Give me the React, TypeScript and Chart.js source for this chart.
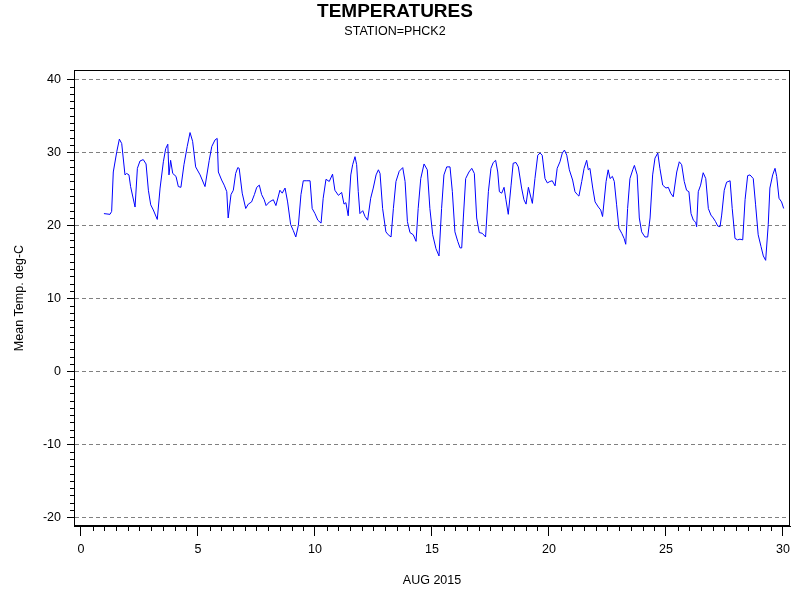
import React, { useEffect, useRef } from "react";
import { Chart, registerables } from "chart.js";

Chart.register(...registerables);

const titleText = "TEMPERATURES";
const subtitleText = "STATION=PHCK2";
const xAxisTitle = "AUG 2015";
const yAxisTitle = "Mean Temp. deg-C";

const xTickValues = [0, 5, 10, 15, 20, 25, 30];
const yTickValues = [-20, -10, 0, 10, 20, 30, 40];
const xMinorStep = 0.5;
const yMinorStep = 1;

const days = [
  0.98, 1.24, 1.31, 1.38, 1.53, 1.64, 1.74, 1.88, 1.95, 2.05, 2.12, 2.31, 2.41, 2.52, 2.66, 2.78, 2.88, 2.98, 3.09, 3.26,
  3.38, 3.52, 3.62, 3.71, 3.76, 3.83, 3.92, 4.06, 4.16, 4.27, 4.4, 4.54, 4.66, 4.77, 4.9, 5.09, 5.3, 5.48, 5.59, 5.73,
  5.82, 5.87, 6.01, 6.12, 6.23, 6.29, 6.41, 6.51, 6.61, 6.7, 6.76, 6.89, 7.04, 7.15, 7.29, 7.41, 7.51, 7.62, 7.72, 7.83,
  7.91, 8.05, 8.22, 8.33, 8.5, 8.6, 8.72, 8.83, 8.96, 9.07, 9.18, 9.29, 9.4, 9.5, 9.65, 9.79, 9.88, 10.0, 10.12, 10.26,
  10.35, 10.47, 10.61, 10.75, 10.85, 11.0, 11.14, 11.24, 11.32, 11.42, 11.53, 11.61, 11.71, 11.78, 11.85, 11.92, 12.04, 12.14, 12.25, 12.38,
  12.49, 12.61, 12.71, 12.78, 12.89, 13.03, 13.13, 13.25, 13.35, 13.46, 13.6, 13.75, 13.85, 13.95, 14.06, 14.2, 14.32, 14.41, 14.52, 14.66,
  14.8, 14.91, 15.03, 15.17, 15.3, 15.41, 15.51, 15.63, 15.77, 15.87, 15.98, 16.1, 16.2, 16.27, 16.34, 16.44, 16.58, 16.7, 16.81, 16.91,
  17.02, 17.15, 17.29, 17.41, 17.52, 17.62, 17.72, 17.81, 17.88, 17.98, 18.08, 18.16, 18.26, 18.38, 18.47, 18.59, 18.69, 18.83, 18.93, 19.02,
  19.12, 19.29, 19.4, 19.52, 19.62, 19.71, 19.83, 19.93, 20.04, 20.14, 20.26, 20.35, 20.47, 20.57, 20.66, 20.76, 20.87, 21.01, 21.11, 21.21,
  21.28, 21.4, 21.5, 21.61, 21.68, 21.75, 21.87, 21.97, 22.11, 22.21, 22.29, 22.44, 22.53, 22.61, 22.71, 22.79, 22.89, 22.99, 23.11, 23.21,
  23.28, 23.36, 23.46, 23.58, 23.65, 23.77, 23.86, 23.96, 24.1, 24.22, 24.32, 24.43, 24.53, 24.65, 24.74, 24.86, 25.0, 25.1, 25.2, 25.31,
  25.46, 25.57, 25.67, 25.78, 25.88, 25.98, 26.07, 26.17, 26.27, 26.31, 26.38, 26.48, 26.59, 26.7, 26.81, 26.92, 27.02, 27.12, 27.21, 27.31,
  27.38, 27.49, 27.59, 27.74, 27.83, 27.95, 28.06, 28.16, 28.28, 28.38, 28.49, 28.59, 28.73, 28.83, 28.94, 29.06, 29.16, 29.26, 29.37, 29.44,
  29.56, 29.66, 29.73, 29.83, 29.94, 30.03,
];

const temps = [
  21.6, 21.5, 21.9, 27.3, 30.1, 31.8, 31.2, 26.9, 27.1, 26.9, 25.3, 22.5, 27.8, 28.8, 29.0, 28.4, 24.8, 22.8, 22.1, 20.8,
  25.1, 28.7, 30.5, 31.1, 26.9, 28.9, 27.1, 26.7, 25.3, 25.2, 28.3, 30.8, 32.7, 31.5, 28.0, 26.9, 25.3, 28.9, 30.8, 31.7,
  31.9, 27.3, 26.2, 25.5, 24.6, 21.0, 24.2, 24.8, 27.1, 27.9, 27.8, 24.4, 22.3, 22.9, 23.2, 24.2, 25.2, 25.5, 24.2, 23.5,
  22.7, 23.2, 23.5, 22.7, 24.8, 24.4, 25.1, 23.2, 20.1, 19.3, 18.4, 20.0, 24.2, 26.1, 26.1, 26.1, 22.3, 21.6, 20.7, 20.3,
  23.7, 26.3, 26.0, 27.0, 24.8, 24.1, 24.5, 22.9, 23.1, 21.3, 26.9, 28.3, 29.4, 28.3, 24.6, 21.6, 22.0, 21.2, 20.7, 23.7,
  25.1, 26.9, 27.6, 27.1, 22.3, 19.1, 18.7, 18.4, 22.3, 26.0, 27.4, 27.9, 26.0, 20.5, 19.0, 18.7, 17.8, 22.3, 26.4, 28.4,
  27.6, 22.3, 18.7, 16.8, 15.8, 22.3, 26.9, 28.0, 28.0, 24.6, 19.1, 17.8, 16.9, 16.9, 21.0, 26.4, 27.3, 27.8, 27.1, 21.0,
  19.0, 18.9, 18.4, 24.6, 27.8, 28.6, 28.9, 27.3, 24.6, 24.4, 25.2, 23.5, 21.5, 25.5, 28.5, 28.6, 28.0, 25.1, 23.5, 22.9,
  25.2, 23.0, 26.4, 29.6, 29.9, 29.6, 26.4, 25.8, 26.0, 26.1, 25.4, 27.8, 28.7, 29.9, 30.3, 29.6, 27.6, 26.2, 24.6, 24.2,
  24.0, 26.0, 27.8, 28.9, 27.6, 27.8, 25.1, 23.2, 22.5, 22.1, 21.2, 26.0, 27.6, 26.4, 26.7, 26.0, 22.8, 19.6, 18.9, 18.2,
  17.4, 22.3, 26.4, 27.6, 28.2, 26.9, 21.0, 19.1, 18.4, 18.4, 21.0, 26.9, 29.2, 29.9, 27.8, 25.5, 25.1, 25.2, 24.4, 23.9,
  27.3, 28.7, 28.3, 26.0, 24.8, 24.6, 21.6, 20.7, 20.4, 19.8, 24.6, 25.5, 27.2, 26.4, 22.3, 21.4, 21.0, 20.5, 19.9, 19.8,
  21.4, 24.8, 25.9, 26.1, 22.3, 18.2, 18.0, 18.1, 18.0, 23.5, 26.8, 26.9, 26.4, 22.8, 18.7, 17.1, 15.8, 15.2, 20.1, 25.1,
  26.9, 27.8, 26.7, 23.7, 23.2, 22.3,
];

const xMin = -0.299;
const xMax = 30.3;
const yMin = -21.19;
const yMax = 41.27;

function minorValues(majors: number[], step: number, lo: number, hi: number): number[] {
  const out: number[] = [];
  const first = Math.ceil(lo / step);
  const last = Math.floor(hi / step);
  for (let i = first; i <= last; i++) {
    const v = +(i * step).toFixed(4);
    if (!majors.some((m) => Math.abs(m - v) < 1e-6)) out.push(v);
  }
  return out;
}

const FONT = "'Liberation Sans', Arial, Helvetica, sans-serif";

const framePlugin = {
  id: "frameAndMinorTicks",
  afterDraw(chart: any) {
    const { ctx, chartArea: a, scales } = chart;
    const xs = scales.x;
    const ys = scales.y;
    const yMinor = minorValues(yTickValues, yMinorStep, -20, 40);
    const xMinor = minorValues(xTickValues, xMinorStep, xMin, xMax);
    ctx.save();
    ctx.strokeStyle = "#000";
    ctx.lineWidth = 1;
    ctx.setLineDash([]);
    ctx.beginPath();
    const l = Math.round(a.left);
    const b = Math.round(a.bottom);
    for (const v of yMinor) {
      const p = Math.round(ys.getPixelForValue(v)) + 0.5;
      ctx.moveTo(l - 4, p);
      ctx.lineTo(l, p);
    }
    for (const v of xMinor) {
      const p = Math.round(xs.getPixelForValue(v)) + 0.5;
      ctx.moveTo(p, b);
      ctx.lineTo(p, b + 5);
    }
    ctx.stroke();
    ctx.strokeRect(
      Math.round(a.left) + 0.5,
      Math.round(a.top) + 0.5,
      Math.round(a.right - a.left) - 1,
      Math.round(a.bottom - a.top) - 1
    );
    ctx.restore();
  },
};

export default function App() {
  const canvasRef = useRef<HTMLCanvasElement | null>(null);

  useEffect(() => {
    if (!canvasRef.current) return;
    Chart.defaults.font.family = FONT;
    Chart.defaults.color = "#000";
    const points = days.map((d, i) => ({ x: d, y: temps[i] }));
    const chart = new Chart(canvasRef.current, {
      type: "line",
      data: {
        datasets: [
          {
            data: points,
            borderColor: "#0000ff",
            borderWidth: 1,
            pointRadius: 0,
            tension: 0,
            fill: false,
          },
        ],
      },
      options: {
        animation: false,
        responsive: false,
        devicePixelRatio: 1,
        layout: { padding: { left: 0, right: 10, top: 0, bottom: 0 } },
        plugins: {
          legend: { display: false },
          tooltip: { enabled: false },
          title: {
            display: true,
            text: titleText,
            color: "#000",
            font: { size: 19, weight: "bold", lineHeight: 1.1, family: FONT },
            padding: { top: 1, bottom: 0 },
          },
          subtitle: {
            display: true,
            text: subtitleText,
            color: "#000",
            font: { size: 12.5, lineHeight: 1.2, family: FONT },
            padding: { top: 2, bottom: 31.1 },
          },
        },
        scales: {
          x: {
            type: "linear",
            min: xMin,
            max: xMax,
            afterBuildTicks: (scale: any) => {
              scale.ticks = xTickValues.map((v) => ({ value: v }));
            },
            afterFit: (scale: any) => {
              scale.height = 74;
            },
            ticks: {
              color: "#000",
              font: { size: 12.5, lineHeight: 1.2 },
              padding: 6,
              maxRotation: 0,
              autoSkip: false,
              callback: (v: any) => String(v),
            },
            grid: {
              drawOnChartArea: false,
              drawTicks: true,
              tickLength: 10,
              tickColor: "#000",
              tickWidth: 1,
            },
            border: { display: true, color: "#000", width: 1 },
            title: {
              display: true,
              text: xAxisTitle,
              color: "#000",
              font: { size: 12.5, lineHeight: 1.2 },
              padding: { top: 0, bottom: 11.5 },
            },
          },
          y: {
            type: "linear",
            min: yMin,
            max: yMax,
            afterBuildTicks: (scale: any) => {
              scale.ticks = yTickValues.map((v) => ({ value: v }));
            },
            afterFit: (scale: any) => {
              scale.width = 74;
            },
            ticks: {
              color: "#000",
              font: { size: 12.5, lineHeight: 1.2 },
              padding: 6,
              autoSkip: false,
              callback: (v: any) => String(v),
            },
            grid: {
              drawOnChartArea: true,
              color: "#808080",
              lineWidth: 1,
              drawTicks: true,
              tickLength: 7,
              tickColor: "#000",
              tickWidth: 1,
              tickBorderDash: [],
            },
            border: { display: true, color: "#000", width: 1, dash: [4, 3] },
            title: {
              display: true,
              text: yAxisTitle,
              color: "#000",
              font: { size: 12.5, lineHeight: 1.2 },
              padding: { top: 12, bottom: 0 },
            },
          },
        },
      },
      plugins: [framePlugin],
    });
    return () => chart.destroy();
  }, []);

  return (
    <div style={{ position: "absolute", left: 0, top: 0, width: 800, height: 600, background: "#fff" }}>
      <canvas ref={canvasRef} width={800} height={600} style={{ display: "block", width: 800, height: 600 }} />
    </div>
  );
}
